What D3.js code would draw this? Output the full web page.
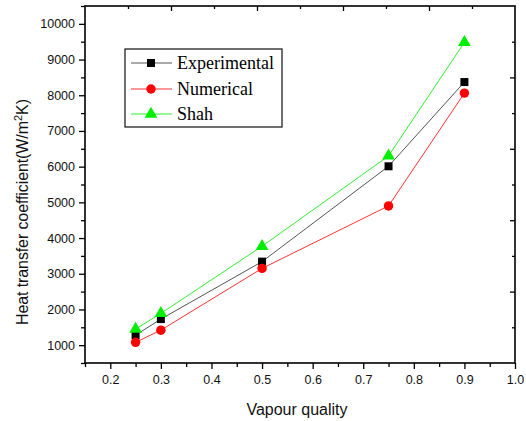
<!DOCTYPE html>
<html>
<head>
<meta charset="utf-8">
<script src="https://cdn.jsdelivr.net/npm/d3@7/dist/d3.min.js"></script>
<style>
  html, body { margin: 0; padding: 0; background: #fff; }
  svg { display: block; }
  .tick-label { font-family: "Liberation Sans", Arial, sans-serif; font-size: 12.5px; fill: #111; }
  .axis-title { font-family: "Liberation Sans", Arial, sans-serif; font-size: 16px; fill: #111; }
  .legend-text { font-family: "Liberation Serif", "Times New Roman", serif; font-size: 18px; fill: #000; }
</style>
</head>
<body>
<svg id="chart" width="526" height="421"></svg>
<script>
// Vapour quality values (x) shared by all three series
const quality = [0.25, 0.3, 0.5, 0.75, 0.9];

// Heat transfer coefficient, W/m²K
const experimental = [1280, 1730, 3340, 6010, 8370];
const numerical    = [1080, 1420, 3150, 4900, 8060];
const shah         = [1450, 1890, 3770, 6300, 9480];

const seriesNames = ["Experimental", "Numerical", "Shah"];

// Tick values
const xTicks = [0.2, 0.3, 0.4, 0.5, 0.6, 0.7, 0.8, 0.9, 1.0];
const xMinorTicks = [0.15, 0.25, 0.35, 0.45, 0.55, 0.65, 0.75, 0.85, 0.95];
const yTicks = [1000, 2000, 3000, 4000, 5000, 6000, 7000, 8000, 9000, 10000];
const yMinorTicks = [500, 1500, 2500, 3500, 4500, 5500, 6500, 7500, 8500, 9500, 10500];

const svg = d3.select("#chart");

const plot = { left: 85, right: 515, top: 6, bottom: 363 };

const x = d3.scaleLinear().domain([0.15, 1.0]).range([plot.left, plot.right]);
const y = d3.scaleLinear().domain([500, 10500]).range([plot.bottom, plot.top]);

// Bottom axis: outward major and minor ticks
const xAxis = d3.axisBottom(x).tickValues(xTicks).tickSize(6).tickPadding(6)
  .tickFormat(d3.format(".1f"));
const xMinorAxis = d3.axisBottom(x).tickValues(xMinorTicks).tickSize(4).tickFormat("");

svg.append("g").attr("transform", `translate(0,${plot.bottom})`).call(xAxis);
svg.append("g").attr("transform", `translate(0,${plot.bottom})`).call(xMinorAxis);

// Left axis
const yAxis = d3.axisLeft(y).tickValues(yTicks).tickSize(6).tickPadding(4)
  .tickFormat(d3.format("d"));
const yMinorAxis = d3.axisLeft(y).tickValues(yMinorTicks).tickSize(4).tickFormat("");

svg.append("g").attr("transform", `translate(${plot.left},0)`).call(yAxis);
svg.append("g").attr("transform", `translate(${plot.left},0)`).call(yMinorAxis);

// Mirrored top and right axes: ten equal divisions, ticks pointing inward
const topIdx = d3.scaleLinear().domain([0, 10]).range([plot.left, plot.right]);
const rightIdx = d3.scaleLinear().domain([0, 10]).range([plot.bottom, plot.top]);
const divisions = d3.range(1, 10);

svg.append("g").attr("transform", `translate(0,${plot.top})`)
  .call(d3.axisTop(topIdx).tickValues(divisions).tickFormat("").tickSizeOuter(0))
  .selectAll(".tick line").attr("y2", d => d % 2 === 0 ? 5 : 3);

svg.append("g").attr("transform", `translate(${plot.right},0)`)
  .call(d3.axisRight(rightIdx).tickValues(divisions).tickFormat("").tickSizeOuter(0))
  .selectAll(".tick line").attr("x2", d => d % 2 === 0 ? -5 : -3);

svg.selectAll(".domain").remove();
svg.selectAll(".tick line").attr("stroke", "#000").attr("stroke-width", 1.3);
svg.selectAll(".tick text").attr("class", "tick-label").attr("fill", "#111");

// Frame
svg.append("rect")
  .attr("x", plot.left).attr("y", plot.top)
  .attr("width", plot.right - plot.left).attr("height", plot.bottom - plot.top)
  .attr("fill", "none").attr("stroke", "#000").attr("stroke-width", 1.6);

// Axis titles
svg.append("text").attr("class", "axis-title")
  .attr("x", 297).attr("y", 415)
  .attr("text-anchor", "middle").text("Vapour quality");

const yt = svg.append("text").attr("class", "axis-title")
  .attr("transform", "translate(28,325) rotate(-90)")
  .attr("text-anchor", "start");
yt.append("tspan").attr("textLength", 204).attr("lengthAdjust", "spacing")
  .text("Heat transfer coefficient(W/m");
yt.append("tspan").attr("dy", -6).attr("font-size", "11px").text("2");
yt.append("tspan").attr("dy", 6).text("K)");

// Series drawing
const series = [
  { name: seriesNames[0], values: experimental, line: "#555555", fill: "#000000", shape: d3.symbolSquare, size: 64 },
  { name: seriesNames[1], values: numerical, line: "#ff3333", fill: "#ff0000", shape: d3.symbolCircle, size: 70 },
  { name: seriesNames[2], values: shah, line: "#33ee33", fill: "#00ee00", shape: d3.symbolTriangle, size: 70 }
];

const line = d3.line().x(d => x(d[0])).y(d => y(d[1]));

series.forEach(s => {
  const pts = quality.map((q, i) => [q, s.values[i]]);
  svg.append("path").datum(pts).attr("d", line)
    .attr("fill", "none").attr("stroke", s.line).attr("stroke-width", 1);
});

series.forEach(s => {
  const pts = quality.map((q, i) => [q, s.values[i]]);
  svg.append("g").selectAll("path").data(pts).join("path")
    .attr("transform", d => `translate(${x(d[0])},${y(d[1])})`)
    .attr("d", d3.symbol().type(s.shape).size(s.size))
    .attr("fill", s.fill);
});

// Legend
const legend = svg.append("g");
legend.append("rect").attr("x", 125).attr("y", 49).attr("width", 157).attr("height", 78)
  .attr("fill", "#fff").attr("stroke", "#222").attr("stroke-width", 1.3);

const rowY = [63, 89, 114];
series.forEach((s, i) => {
  const g = legend.append("g").attr("transform", `translate(0,${rowY[i]})`);
  g.append("line").attr("x1", 131).attr("x2", 172).attr("y1", 0).attr("y2", 0)
    .attr("stroke", s.line).attr("stroke-width", 1);
  g.append("path").attr("transform", "translate(151,0)")
    .attr("d", d3.symbol().type(s.shape).size(s.size)).attr("fill", s.fill);
  g.append("text").attr("class", "legend-text").attr("x", 177).attr("y", 6).text(s.name);
});
</script>
</body>
</html>
